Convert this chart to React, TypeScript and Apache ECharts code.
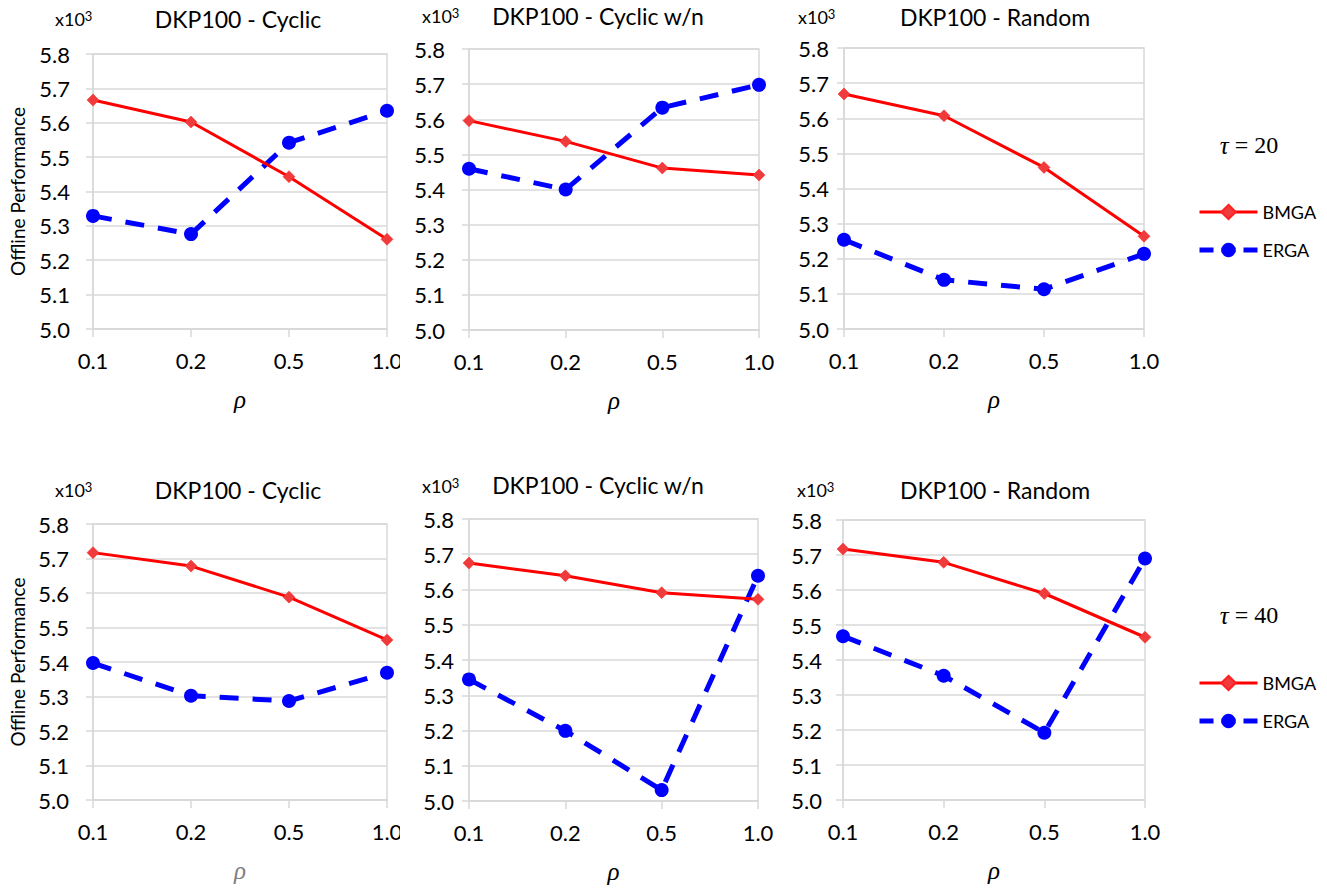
import React, { useEffect, useRef } from "react";
import * as echarts from "echarts";

const categories = ["0.1", "0.2", "0.5", "1.0"];
const yTicks = [5.0, 5.1, 5.2, 5.3, 5.4, 5.5, 5.6, 5.7, 5.8];

const bmgaTL = [5.666, 5.602, 5.443, 5.261];
const ergaTL = [5.329, 5.276, 5.542, 5.635];
const bmgaTM = [5.596, 5.537, 5.461, 5.441];
const ergaTM = [5.459, 5.4, 5.633, 5.698];
const bmgaTR = [5.669, 5.607, 5.46, 5.264];
const ergaTR = [5.254, 5.14, 5.113, 5.214];
const bmgaBL = [5.717, 5.678, 5.588, 5.464];
const ergaBL = [5.397, 5.302, 5.287, 5.369];
const bmgaBM = [5.675, 5.639, 5.591, 5.572];
const ergaBM = [5.345, 5.199, 5.031, 5.639];
const bmgaBR = [5.717, 5.679, 5.59, 5.465];
const ergaBR = [5.468, 5.355, 5.192, 5.69];

const titles = [
  "DKP100 - Cyclic",
  "DKP100 - Cyclic w/n",
  "DKP100 - Random",
  "DKP100 - Cyclic",
  "DKP100 - Cyclic w/n",
  "DKP100 - Random",
];
const tauLabels = ["20", "40"];
const seriesNames = ["BMGA", "ERGA"];

const FONT = "Lato";
const GRID_COLOR = "#d9d9d9";

export default function App() {
  const ref = useRef<HTMLDivElement>(null);
  useEffect(() => {
    if (!ref.current) return;
    const chart = echarts.init(ref.current, undefined, { renderer: "svg" });

    const panels = [
      { grid: { left: 93, top: 54, width: 294, height: 275 }, bm: bmgaTL, er: ergaTL, title: titles[0], tx: 238, ty: 19, xx: 55, xy: 19, ym: 23, yName: true, rhoColor: "#000" },
      { grid: { left: 469, top: 49, width: 290, height: 281 }, bm: bmgaTM, er: ergaTM, title: titles[1], tx: 598, ty: 16, xx: 422, xy: 16, ym: 24, yName: false, rhoColor: "#000" },
      { grid: { left: 844, top: 48, width: 300, height: 281 }, bm: bmgaTR, er: ergaTR, title: titles[2], tx: 995, ty: 17, xx: 798, xy: 17, ym: 15, yName: false, rhoColor: "#000" },
      { grid: { left: 93, top: 524, width: 294, height: 276 }, bm: bmgaBL, er: ergaBL, title: titles[3], tx: 238, ty: 490, xx: 55, xy: 490, ym: 24, yName: true, rhoColor: "#7f7f7f" },
      { grid: { left: 469, top: 519, width: 289, height: 282 }, bm: bmgaBM, er: ergaBM, title: titles[4], tx: 598, ty: 485, xx: 422, xy: 486, ym: 15, yName: false, rhoColor: "#000" },
      { grid: { left: 843, top: 520, width: 302, height: 280 }, bm: bmgaBR, er: ergaBR, title: titles[5], tx: 995, ty: 490, xx: 797, xy: 490, ym: 21, yName: false, rhoColor: "#000" },
    ];

    const grids: any[] = [];
    const xAxes: any[] = [];
    const yAxes: any[] = [];
    const series: any[] = [];
    const graphics: any[] = [];

    panels.forEach((p, i) => {
      grids.push({ ...p.grid, show: true, borderColor: GRID_COLOR, borderWidth: 1.5, containLabel: false });
      xAxes.push({
        type: "category",
        gridIndex: i,
        data: categories,
        boundaryGap: false,
        axisLine: { show: true, lineStyle: { color: GRID_COLOR, width: 1.5 } },
        axisTick: { show: true, length: 8, lineStyle: { color: GRID_COLOR, width: 1.5 } },
        axisLabel: { margin: 20, fontSize: 22, color: "#000", fontFamily: FONT },
        splitLine: { show: false },
        name: "ρ",
        nameLocation: "middle",
        nameGap: 58,
        nameTextStyle: { fontFamily: "Liberation Serif", fontStyle: "italic", fontSize: 25, color: p.rhoColor },
      });
      yAxes.push({
        type: "value",
        gridIndex: i,
        min: yTicks[0],
        max: yTicks[yTicks.length - 1],
        interval: 0.1,
        axisLine: { show: true, lineStyle: { color: GRID_COLOR, width: 1.5 } },
        axisTick: { show: true, length: 7, lineStyle: { color: GRID_COLOR, width: 1.5 } },
        axisLabel: { margin: p.ym, fontSize: 22, color: "#000", fontFamily: FONT, formatter: (v: number) => v.toFixed(1) },
        splitLine: { show: true, lineStyle: { color: GRID_COLOR, width: 1.5 } },
        name: p.yName ? "Offline Performance" : "",
        nameLocation: "middle",
        nameRotate: 90,
        nameGap: 66,
        nameTextStyle: { fontFamily: FONT, fontSize: 19, color: "#000" },
      });
      series.push({
        name: seriesNames[0],
        type: "line",
        xAxisIndex: i,
        yAxisIndex: i,
        data: p.bm,
        symbol: "diamond",
        symbolSize: 12,
        lineStyle: { color: "#ff0000", width: 3 },
        itemStyle: { color: "#ef3b3b", borderColor: "#ff2020", borderWidth: 0.5 },
        z: 3,
      });
      series.push({
        name: seriesNames[1],
        type: "line",
        xAxisIndex: i,
        yAxisIndex: i,
        data: p.er,
        symbol: "circle",
        symbolSize: 14,
        lineStyle: { color: "#0000ff", width: 5, type: [19, 14] },
        itemStyle: { color: "#0000ff" },
        z: 2,
      });
      graphics.push({
        type: "text",
        x: p.tx,
        y: p.ty,
        style: { text: p.title, fontFamily: FONT, fontSize: 23, fill: "#000", textAlign: "center", textVerticalAlign: "middle" },
      });
      graphics.push({
        type: "text",
        x: p.xx,
        y: p.xy,
        style: {
          text: "x10{s|3}",
          fontFamily: FONT,
          fontSize: 18,
          fill: "#000",
          textAlign: "left",
          textVerticalAlign: "middle",
          rich: { s: { fontFamily: FONT, fontSize: 13, fill: "#000", verticalAlign: "top", padding: [0, 0, 6, 0] } },
        },
      });
    });

    // clip the "1.0" of the left column like the original
    graphics.push({ type: "rect", shape: { x: 400, y: 340, width: 28, height: 40 }, style: { fill: "#fff" }, z: 100 });
    graphics.push({ type: "rect", shape: { x: 400, y: 810, width: 28, height: 40 }, style: { fill: "#fff" }, z: 100 });

    [145, 615].forEach((y, k) => {
      graphics.push({
        type: "text",
        x: 1249,
        y,
        style: {
          text: "{i|τ} = " + tauLabels[k],
          fontFamily: "Liberation Serif",
          fontSize: 24,
          fill: "#000",
          textAlign: "center",
          textVerticalAlign: "middle",
          rich: { i: { fontStyle: "italic", fontFamily: "Liberation Serif", fontSize: 25 } },
        },
      });
    });

    const legends = [203, 674].map((top) => ({
      data: [
        { name: seriesNames[0], lineStyle: { width: 3 } },
        { name: seriesNames[1], lineStyle: { width: 5, type: [14, 8] } },
      ],
      orient: "vertical",
      left: 1197,
      top,
      padding: 0,
      itemWidth: 58,
      itemHeight: 18,
      itemGap: 20,
      textStyle: { fontFamily: FONT, fontSize: 18, color: "#000" },
      selectedMode: false,
    }));

    chart.setOption({
      animation: false,
      backgroundColor: "#fff",
      grid: grids,
      xAxis: xAxes,
      yAxis: yAxes,
      series,
      legend: legends,
      graphic: graphics,
    });
    return () => chart.dispose();
  }, []);
  return <div ref={ref} style={{ position: "fixed", left: 0, top: 0, width: 1327, height: 888, background: "#fff" }} />;
}
